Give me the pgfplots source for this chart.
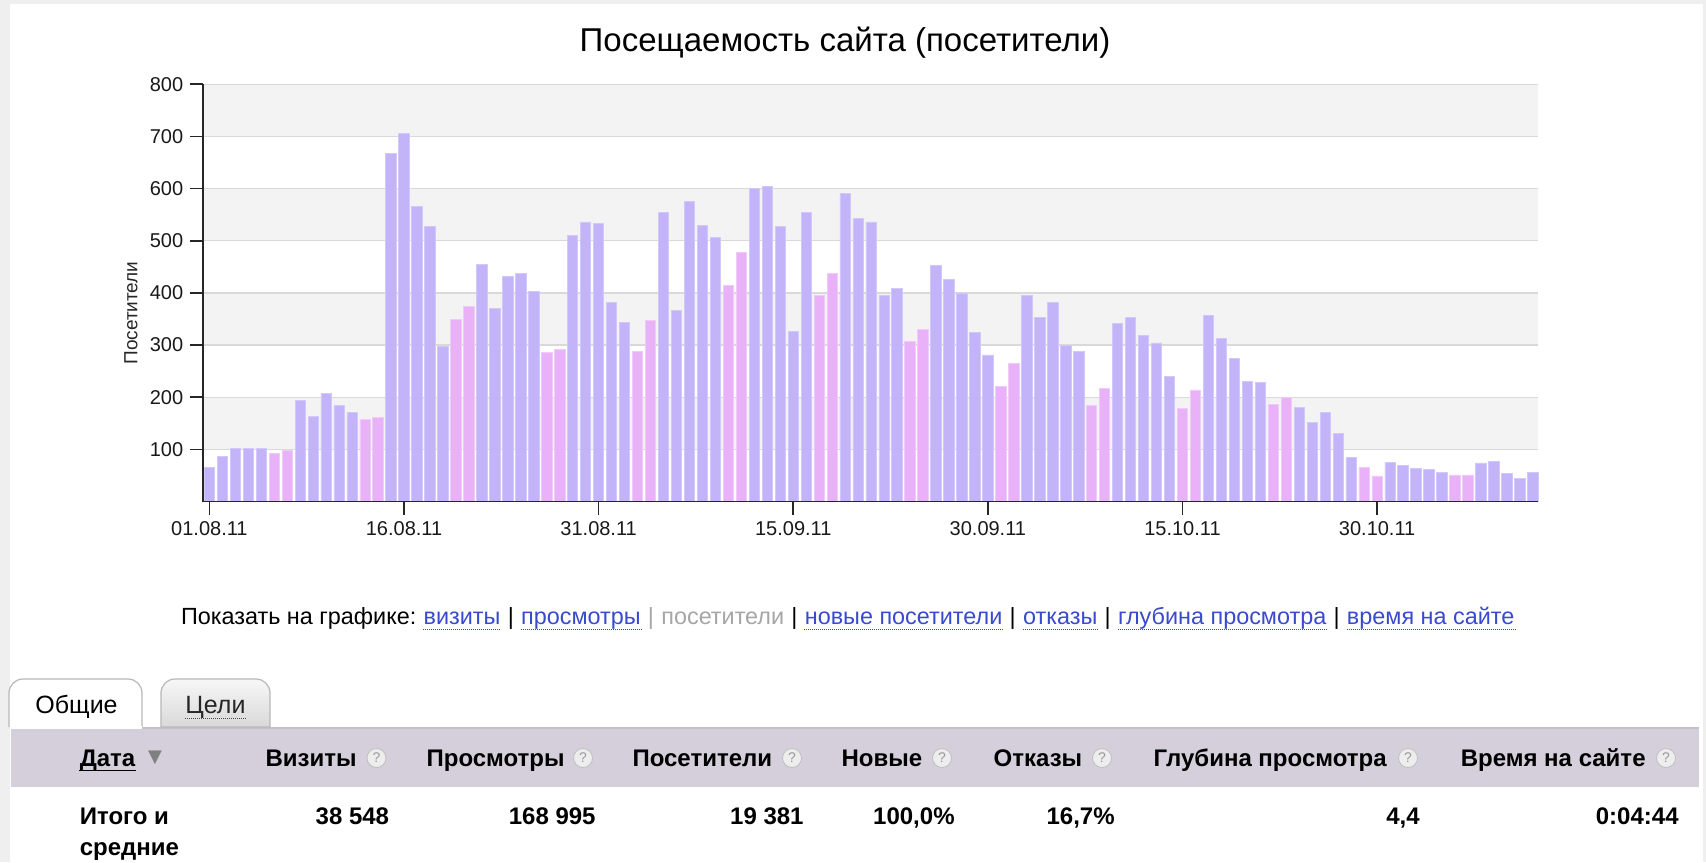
\documentclass[border=0pt]{standalone}
\usepackage{fontspec}
\setmainfont{Liberation Sans}
\newfontfamily\dejavu{DejaVu Sans}
\usepackage{pgfplots}
\pgfplotsset{compat=1.18}
\usepackage{pgfplotstable}
\definecolor{barblue}{HTML}{C3B3F8}
\definecolor{barblueedge}{HTML}{D3C8FA}
\definecolor{barpink}{HTML}{E8B1F8}
\definecolor{barpinkedge}{HTML}{F0CBFA}
\definecolor{band}{HTML}{F3F3F3}
\definecolor{gridc}{HTML}{D9D9D9}
\definecolor{linkblue}{HTML}{3A4ACF}
\definecolor{framec}{HTML}{EFEFEF}
\definecolor{hdr}{HTML}{D4CFDB}
\definecolor{hdrtop}{HTML}{C4BECE}
\definecolor{tabborder}{HTML}{B8B8B8}
\definecolor{tabtop}{HTML}{F7F7F7}
\definecolor{tabbot}{HTML}{D9D9D9}

\pgfplotstableread{
x y
1 65
2 87
3 101
4 101
5 102
8 194
9 163
10 207
11 184
12 170
15 667
16 706
17 565
18 528
19 297
22 454
23 371
24 432
25 437
26 403
29 511
30 536
31 533
32 381
33 343
36 555
37 367
38 576
39 529
40 507
43 601
44 605
45 528
46 326
47 554
50 590
51 543
52 536
53 395
54 409
57 453
58 426
59 400
60 324
61 281
64 395
65 353
66 381
67 299
68 287
71 342
72 353
73 318
74 304
75 240
78 356
79 313
80 274
81 231
82 228
85 180
86 151
87 170
88 130
89 84
92 75
93 69
94 63
95 61
96 55
99 74
100 77
101 53
102 45
103 56
}\weekdays

\pgfplotstableread{
x y
6 92
7 98
13 158
14 161
20 349
21 374
27 285
28 292
34 287
35 347
41 415
42 477
48 395
49 438
55 307
56 330
62 221
63 264
69 184
70 216
76 178
77 214
83 186
84 200
90 65
91 49
97 51
98 51
}\weekends

\begin{document}
\begin{tikzpicture}
\begin{scope}[x=0.5pt,y=-0.5pt]
\path[use as bounding box] (0,0) rectangle (1706,862);
\fill[framec] (0,0) rectangle (1706,862);
\fill[white] (10,4) rectangle (1703,862);
\end{scope}

\begin{axis}[
  at={(101.65pt,-250.75pt)}, anchor=south west,
  scale only axis, width=667.35pt, height=208.6pt,
  xmin=0.53, xmax=103.4, ymin=0, ymax=800,
  axis on top,
  axis lines=left,
  axis line style={-, line width=0.85pt, color=black!85},
  every outer x axis line/.append style={-},
  every outer y axis line/.append style={-},
  tick style={line width=0.85pt, color=black!85},
  tick align=outside, major tick length=6.5pt,
  xtick={1,16,31,46,61,76,91},
  xticklabels={01.08.11,16.08.11,31.08.11,15.09.11,30.09.11,15.10.11,30.10.11},
  ytick={100,200,300,400,500,600,700,800},
  minor tick num=0,
  /pgf/number format/assume math mode=true,
  ticklabel style={font=\fontsize{10}{12}\selectfont, text=black!90},
  ybar=0pt,
  clip=false,
]
\fill[band] (axis cs:0.53,700) rectangle (axis cs:103.4,800);
\fill[band] (axis cs:0.53,500) rectangle (axis cs:103.4,600);
\fill[band] (axis cs:0.53,300) rectangle (axis cs:103.4,400);
\fill[band] (axis cs:0.53,100) rectangle (axis cs:103.4,200);
\pgfplotsinvokeforeach{100,200,300,400,500,600,700,800}{
  \draw[gridc, line width=0.65pt] (axis cs:0.53,#1) -- (axis cs:103.4,#1);
}
\addplot[bar shift=0pt, bar width=0.8, fill=barblue, draw=barblueedge, line width=0.4pt] table[x=x,y=y] {\weekdays};
\addplot[bar shift=0pt, bar width=0.8, fill=barpink, draw=barpinkedge, line width=0.4pt] table[x=x,y=y] {\weekends};
\end{axis}

\begin{scope}[x=0.5pt,y=-0.5pt]
% title
\node[anchor=base, inner sep=0, font=\fontsize{16.5}{20}\selectfont] at (845,51) {Посещаемость сайта (посетители)};
% y label
\node[rotate=90, inner sep=0, font=\fontsize{9.5}{11}\selectfont, text=black!85] at (131,313) {Посетители};
% links line
\begin{scope}[every node/.style={anchor=base west, inner sep=0, font=\fontsize{11.7}{14}\selectfont},
  lb/.style={text=linkblue}, dul/.style={linkblue, line width=0.5pt, dash pattern=on 0.5pt off 0.5pt}]
\node (l0) at (180.6,624.5) {Показать на графике:};
\node[lb] (l1) at ([xshift=3.25pt]l0.base east) {визиты};
\node (s1) at ([xshift=3.25pt]l1.base east) {|};
\node[lb] (l2) at ([xshift=3.25pt]s1.base east) {просмотры};
\node[text=black!35] (s2) at ([xshift=3.25pt]l2.base east) {|};
\node[text=black!35] (l3) at ([xshift=3.25pt]s2.base east) {посетители};
\node (s3) at ([xshift=3.25pt]l3.base east) {|};
\node[lb] (l4) at ([xshift=3.25pt]s3.base east) {новые посетители};
\node (s4) at ([xshift=3.25pt]l4.base east) {|};
\node[lb] (l5) at ([xshift=3.25pt]s4.base east) {отказы};
\node (s5) at ([xshift=3.25pt]l5.base east) {|};
\node[lb] (l6) at ([xshift=3.25pt]s5.base east) {глубина просмотра};
\node (s6) at ([xshift=3.25pt]l6.base east) {|};
\node[lb] (l7) at ([xshift=3.25pt]s6.base east) {время на сайте};
\foreach \n in {l1,l2,l4,l5,l6,l7}{
  \draw[dul] ([yshift=-2.6pt]\n.base west) -- ([yshift=-2.6pt]\n.base east);
}
\end{scope}
% tabs
\fill[hdr] (11,727) rectangle (1699,787);
\draw[hdrtop, line width=1pt] (11,727.5) -- (1699,727.5);
\draw[tabborder, line width=0.6pt, fill=white] (9,727) {[rounded corners=7pt] -- (9,679) -- (142,679)} -- (142,727);
\fill[white] (9.5,726) rectangle (141.5,729);
\draw[tabborder, line width=0.6pt, top color=tabtop, bottom color=tabbot] (161,727) {[rounded corners=7pt] -- (161,679) -- (270,679)} -- (270,727) -- cycle;
\node[anchor=base west, inner sep=0, font=\fontsize{12.5}{15}\selectfont] at (35,713) {Общие};
\node[anchor=base west, inner sep=0, font=\fontsize{12.5}{15}\selectfont, text=black!85] (ts) at (185,713) {Цели};
\draw[black!70, line width=0.5pt, dash pattern=on 0.5pt off 0.5pt] ([yshift=-2.8pt]ts.base west) -- ([yshift=-2.8pt]ts.base east);
% header
\begin{scope}[every node/.style={inner sep=0, font=\fontsize{12}{14}\selectfont\bfseries}]
\node[anchor=base west] (dt) at (79.4,766) {Дата};
\node[anchor=base east] at (357,766) {Визиты};
\node[anchor=base east] at (565,766) {Просмотры};
\node[anchor=base east] at (772.5,766) {Посетители};
\node[anchor=base east] at (922.6,766) {Новые};
\node[anchor=base east] at (1082.6,766) {Отказы};
\node[anchor=base east] at (1387,766) {Глубина просмотра};
\node[anchor=base east] at (1646,766) {Время на сайте};
\node[anchor=base west] at (79.4,824) {Итого и};
\node[anchor=base west] at (79.4,855) {средние};
\node[anchor=base east] at (389.5,824) {38 548};
\node[anchor=base east] at (596,824) {168 995};
\node[anchor=base east] at (804,824) {19 381};
\node[anchor=base east] at (955,824) {100,0\%};
\node[anchor=base east] at (1115,824) {16,7\%};
\node[anchor=base east] at (1420,824) {4,4};
\node[anchor=base east] at (1679,824) {0:04:44};
\end{scope}
\draw[black, line width=0.7pt] ([yshift=-2.2pt]dt.base west) -- ([yshift=-2.2pt]dt.base east);
\node[inner sep=0, text=black!50, font=\dejavu\fontsize{9}{10}\selectfont] at (155,758) {▼};
\foreach \cx in {376.5,583,792,942,1102,1408,1666}{
  \node[circle, draw=black!25, fill=black!7, inner sep=0, minimum size=9.5pt, text=black!40, font=\fontsize{7}{8}\selectfont] at (\cx,758) {?};
}
\end{scope}
\end{tikzpicture}
\end{document}
